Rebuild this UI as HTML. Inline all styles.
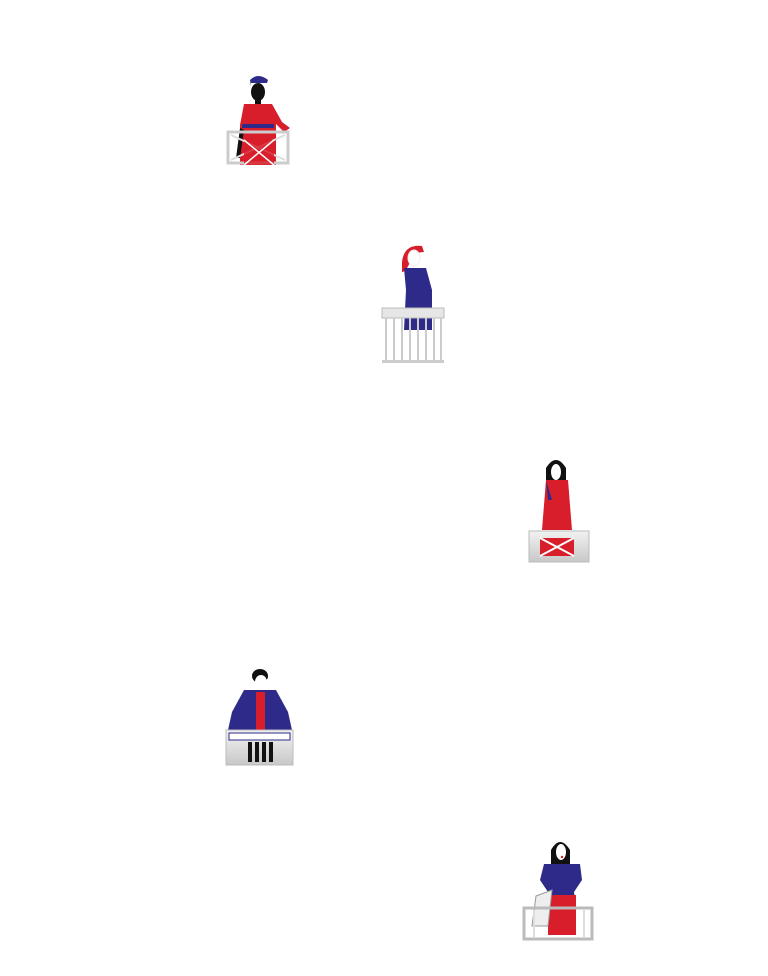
<!DOCTYPE html>
<html><head><meta charset="utf-8"><style>
html,body{margin:0;padding:0;background:#fff;width:768px;height:976px;overflow:hidden}
svg{display:block}
</style></head><body>
<svg width="768" height="976" viewBox="0 0 768 976" xmlns="http://www.w3.org/2000/svg">
<defs>
<linearGradient id="g" x1="0" y1="0" x2="0" y2="1"><stop offset="0" stop-color="#f2f2f2"/><stop offset="1" stop-color="#c8c8c8"/></linearGradient>
</defs>
<!-- Figure 1 -->
<g>
<path d="M250 80 Q258 72 268 80 L266 86 L251 86Z" fill="#2e2a8a"/>
<rect x="251" y="83" width="16" height="3" fill="#fff"/>
<ellipse cx="258" cy="92" rx="7" ry="9" fill="#111"/>
<rect x="255" y="99" width="6" height="5" fill="#111"/>
<path d="M244 104 L272 104 L282 122 L290 128 L284 132 L276 124 L276 165 L240 165 L240 125Z" fill="#d81e2a"/>
<rect x="242" y="124" width="32" height="4" fill="#2e2a8a"/>
<path d="M240 128 L236 158 L240 158 L244 130Z" fill="#111"/>
<rect x="228" y="132" width="60" height="31" fill="none" stroke="#ccc" stroke-width="3"/>
<path d="M231 135 L285 160 M285 135 L231 160" stroke="#ddd" stroke-width="2"/>
<rect x="244" y="140" width="30" height="25" fill="#d81e2a" opacity=".85"/>
<path d="M244 140 L274 165 M274 140 L244 165" stroke="#fff" stroke-width="1.5"/>
</g>
<!-- Figure 2 -->
<g>
<path d="M402 262 Q404 244 422 246 L424 252 Q412 252 410 262 Q406 272 402 272Z" fill="#d81e2a"/>
<ellipse cx="414" cy="258" rx="6" ry="8" fill="#fff" stroke="#eee"/>
<path d="M404 268 L426 268 L432 290 L432 330 L404 330 L406 290Z" fill="#2e2a8a"/>
<rect x="382" y="308" width="62" height="10" fill="#e6e6e6" stroke="#bbb"/>
<g stroke="#ccc" stroke-width="2">
<line x1="386" y1="318" x2="386" y2="362"/><line x1="394" y1="318" x2="394" y2="362"/><line x1="402" y1="318" x2="402" y2="362"/><line x1="410" y1="318" x2="410" y2="362"/><line x1="418" y1="318" x2="418" y2="362"/><line x1="426" y1="318" x2="426" y2="362"/><line x1="434" y1="318" x2="434" y2="362"/><line x1="441" y1="318" x2="441" y2="362"/>
</g>
<rect x="382" y="360" width="62" height="3" fill="#ccc"/>
</g>
<!-- Figure 3 -->
<g>
<path d="M546 468 Q556 452 566 468 L566 492 L546 492Z" fill="#111"/>
<ellipse cx="556" cy="472" rx="5" ry="8" fill="#fff"/>
<path d="M546 480 L568 480 L572 530 L542 530Z" fill="#d81e2a"/>
<path d="M546 480 L552 500 L548 500Z" fill="#2e2a8a"/>
<rect x="529" y="531" width="60" height="31" fill="url(#g)" stroke="#bbb"/>
<rect x="540" y="538" width="34" height="18" fill="#d81e2a"/>
<path d="M540 538 L574 556 M574 538 L540 556" stroke="#fff" stroke-width="2"/>
</g>
<!-- Figure 4 -->
<g>
<ellipse cx="260" cy="676" rx="8" ry="7" fill="#111"/>
<ellipse cx="261" cy="682" rx="6" ry="7" fill="#fff"/>
<path d="M244 690 L276 690 L288 712 L292 730 L228 730 L232 712Z" fill="#2e2a8a"/>
<rect x="256" y="692" width="9" height="38" fill="#d81e2a"/>
<rect x="226" y="730" width="67" height="35" fill="url(#g)" stroke="#bbb"/>
<rect x="229" y="733" width="61" height="7" fill="#fff" stroke="#2e2a8a"/>
<g fill="#111"><rect x="248" y="742" width="4" height="20"/><rect x="255" y="742" width="4" height="20"/><rect x="262" y="742" width="4" height="20"/><rect x="269" y="742" width="4" height="20"/></g>
</g>
<!-- Figure 5 -->
<g>
<path d="M551 850 Q560 834 570 850 L570 864 L551 864Z" fill="#111"/>
<ellipse cx="561" cy="852" rx="5" ry="8" fill="#fff"/>
<circle cx="562" cy="857" r="1.2" fill="#d81e2a"/>
<path d="M544 864 L580 864 L582 880 L574 892 L576 905 L546 905 L548 892 L540 880Z" fill="#2e2a8a"/>
<rect x="548" y="895" width="28" height="40" fill="#d81e2a"/>
<path d="M536 896 L552 890 L548 926 L532 926Z" fill="#eee" stroke="#999"/>
<rect x="524" y="908" width="68" height="31" fill="none" stroke="#bbb" stroke-width="3"/>
<g stroke="#ddd" stroke-width="2"><line x1="534" y1="910" x2="534" y2="938"/><line x1="584" y1="910" x2="584" y2="938"/></g>
</g>
</svg>
</body></html>
